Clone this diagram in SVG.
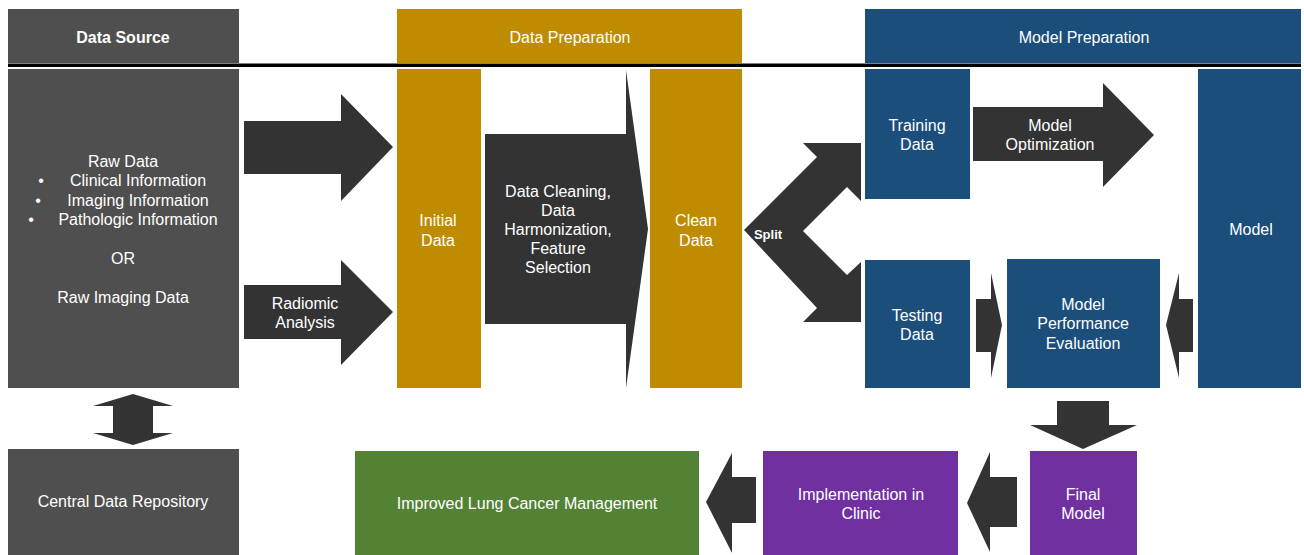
<svg xmlns="http://www.w3.org/2000/svg" width="1304" height="555" viewBox="0 0 1304 555">
<style>
.t{font-family:"Liberation Sans",Arial,sans-serif;font-size:16px;fill:#ffffff;text-anchor:middle}
.b{font-weight:bold}
.gray{fill:#4f4f4f}
.gold{fill:#bf8c00}
.blue{fill:#1b4e7b}
.purple{fill:#7030a0}
.green{fill:#548235}
.arr{fill:#333333}
</style>
<rect width="1304" height="555" fill="#ffffff"/>
<g id="header-data-source"><rect class="gray" x="8" y="9" width="231" height="54"/><text class="t b" x="123" y="43">Data Source</text></g>
<g id="header-data-preparation"><rect class="gold" x="397" y="9" width="345" height="54"/><text class="t" x="570" y="43">Data Preparation</text></g>
<g id="header-model-preparation"><rect class="blue" x="865" y="9" width="436" height="54"/><text class="t" x="1084" y="43">Model Preparation</text></g>
<g id="divider"><rect x="8" y="63.5" width="1293" height="3.5" fill="#000000"/></g>
<g id="raw-data"><rect class="gray" x="8" y="69" width="231" height="319"/>
<text class="t" x="123" y="167">Raw Data</text>
<text class="t" x="41" y="186">•</text><text class="t" x="138" y="186">Clinical Information</text>
<text class="t" x="38" y="206">•</text><text class="t" x="138" y="206">Imaging Information</text>
<text class="t" x="31" y="225">•</text><text class="t" x="138" y="225">Pathologic Information</text>
<text class="t" x="123" y="264">OR</text>
<text class="t" x="123" y="303">Raw Imaging Data</text></g>
<g id="initial-data"><rect class="gold" x="397" y="69" width="84" height="319"/><text class="t" x="438" y="226">Initial</text><text class="t" x="438" y="246">Data</text></g>
<g id="clean-data"><rect class="gold" x="650" y="69" width="92" height="319"/><text class="t" x="696" y="226">Clean</text><text class="t" x="696" y="246">Data</text></g>
<g id="training-data"><rect class="blue" x="865" y="69" width="105" height="130"/><text class="t" x="917" y="131">Training</text><text class="t" x="917" y="150">Data</text></g>
<g id="testing-data"><rect class="blue" x="865" y="260" width="105" height="128"/><text class="t" x="917" y="321">Testing</text><text class="t" x="917" y="340">Data</text></g>
<g id="model-performance"><rect class="blue" x="1007" y="259" width="153" height="129"/><text class="t" x="1083" y="310">Model</text><text class="t" x="1083" y="329">Performance</text><text class="t" x="1083" y="349">Evaluation</text></g>
<g id="model"><rect class="blue" x="1198" y="69" width="103" height="319"/><text class="t" x="1251" y="235">Model</text></g>
<g id="central-repo"><rect class="gray" x="8" y="449" width="231" height="106"/><text class="t" x="123" y="507">Central Data Repository</text></g>
<g id="improved-management"><rect class="green" x="355" y="451" width="344" height="104"/><text class="t" x="527" y="509">Improved Lung Cancer Management</text></g>
<g id="implementation"><rect class="purple" x="763" y="451" width="195" height="104"/><text class="t" x="861" y="500">Implementation in</text><text class="t" x="861" y="519">Clinic</text></g>
<g id="final-model"><rect class="purple" x="1030" y="451" width="107" height="104"/><text class="t" x="1083" y="500">Final</text><text class="t" x="1083" y="519">Model</text></g>
<g id="connectors">
<polygon class="arr" points="244,121 341,121 341,94 393,147 341,201 341,174 244,174"/>
<g id="radiomic-arrow"><polygon class="arr" points="244,285 341,285 341,260 393,312 341,365 341,339 244,339"/><text class="t" x="305" y="309">Radiomic</text><text class="t" x="305" y="328">Analysis</text></g>
<g id="cleaning-arrow"><polygon class="arr" points="485,134 626,134 626,70 648,229 626,388 626,324 485,324"/><text class="t" x="558" y="197">Data Cleaning,</text><text class="t" x="558" y="216">Data</text><text class="t" x="558" y="235">Harmonization,</text><text class="t" x="558" y="254">Feature</text><text class="t" x="558" y="273">Selection</text></g>
<g id="split-arrow"><polygon class="arr" points="744,230 817,157 803,143 861,143 861,201 847,187 803,231 847,275 861,262 861,322 803,322 817,308"/><text class="t b" x="768" y="239" style="font-size:13px">Split</text></g>
<g id="optimization-arrow"><polygon class="arr" points="973,107 1103,107 1103,83 1154,135 1103,187 1103,161 973,161"/><text class="t" x="1050" y="131">Model</text><text class="t" x="1050" y="150">Optimization</text></g>
<polygon class="arr" points="976,299 991,299 991,273 1002,325 991,378 991,352 976,352"/>
<polygon class="arr" points="1193,299 1179,299 1179,273 1166,325 1179,378 1179,352 1193,352"/>
<polygon class="arr" points="1057,401 1109,401 1109,425 1137,425 1083,449 1030,425 1057,425"/>
<polygon class="arr" points="1017,477 990,477 990,452 967,503 990,552 990,527 1017,527"/>
<polygon class="arr" points="756,477 732,477 732,453 706,502 732,553 732,523 756,523"/>
<polygon class="arr" points="133,394 173,406 153,406 153,433 173,433 133,445 93,433 113,433 113,406 93,406"/>
</g>
</svg>
